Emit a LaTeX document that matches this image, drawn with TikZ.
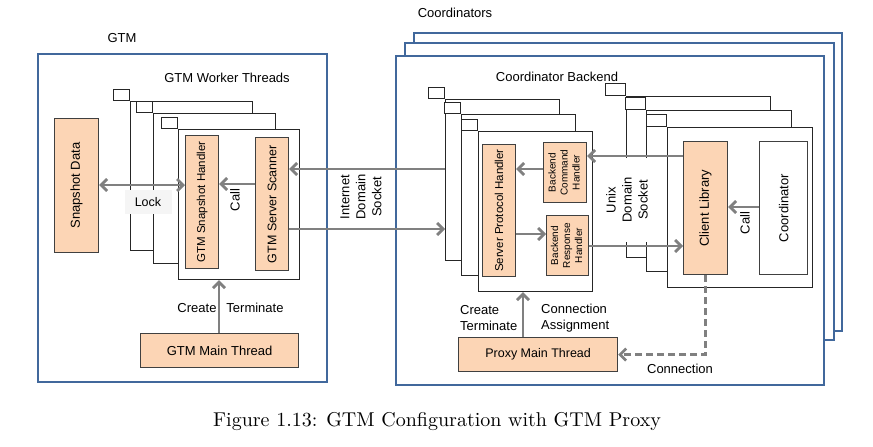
\documentclass[tikz,border=0pt]{standalone}
\usepackage{graphicx}
\usepackage{fontspec}
\setsansfont{Liberation Sans}
\usetikzlibrary{arrows.meta}
\definecolor{bluebox}{HTML}{41689C}
\definecolor{peach}{HTML}{FCD5B5}
\definecolor{arrgray}{HTML}{808080}
\newcommand\bx[6]{\node[#1, minimum width={#5-#3}, minimum height={#6-#4}] (#2) at (#3,#4)}
\begin{document}
\begin{tikzpicture}[x=1pt,y=-1pt,
 every node/.style={font=\sffamily\fontsize{13}{16}\selectfont, text=black, inner sep=0pt},
 grp/.style={draw=bluebox, line width=2.3pt, fill=white, anchor=north west},
 win/.style={draw=black!85, line width=1.2pt, fill=white, anchor=north west},
 wtab/.style={draw=black!85, line width=1.2pt, fill=white, anchor=south east, minimum width=16pt, minimum height=11pt},
 ctab/.style={wtab, minimum width=20pt, minimum height=12pt},
 obox/.style={draw=black!75, line width=1.2pt, fill=peach, anchor=north west},
 wbox/.style={draw=black!75, line width=1.2pt, fill=white, anchor=north west},
 arr/.style={draw=arrgray, line width=2.7pt, -{Straight Barb[length=6pt,width=12pt]}},
 darr/.style={draw=arrgray, line width=2.7pt, {Straight Barb[length=6pt,width=12pt]}-{Straight Barb[length=6pt,width=12pt]}},
]
\useasboundingbox (0,0) rectangle (873,447);

% ---------- GTM ----------
\bx{grp}{gtm}{37}{53}{326}{381}{};
\node (gtmlbl) at (122,38) {GTM};
\node (gwt) at (227,78) {GTM Worker Threads};

\bx{win}{gw1}{130}{101}{252}{250}{}; \node[wtab] (gt1) at (gw1.north west) {};
\bx{win}{gw2}{153}{113}{275}{263}{}; \node[wtab] (gt2) at (gw2.north west) {};
\bx{win}{gw3}{178}{129}{299}{279}{}; \node[wtab] (gt3) at (gw3.north west) {};

\bx{obox}{snap}{54}{118}{98}{252}{\rotatebox{90}{Snapshot Data}};
\bx{obox}{gsh}{185}{135}{218}{268}{\rotatebox{90}{\fontsize{11.5}{14}\selectfont GTM Snapshot Handler}};
\bx{obox}{gss}{255}{137}{288}{270}{\rotatebox{90}{\fontsize{12.5}{15}\selectfont GTM Server Scanner}};
\bx{obox}{gmt}{140}{333}{298}{367}{GTM Main Thread};

\node[fill=black!4, minimum width=47pt, minimum height=24pt] (lock) at (148,202) {\fontsize{12.5}{15}\selectfont Lock};
\node[rotate=90] (gcall) at (235,200) {Call};
\node (gcreate) at (197,308) {Create};
\node (gterm) at (255,308) {Terminate};

% ---------- Coordinators ----------
\node (coords) at (455,13) {Coordinators};
\bx{grp}{c3}{413}{32}{841}{330}{};
\bx{grp}{c2}{404}{42}{833}{339}{};
\bx{grp}{c1}{395}{55}{823}{384}{};
\node (cback) at (557,77) {Coordinator Backend};

\bx{win}{bw1}{445}{99}{559}{260}{}; \node[wtab] (bt1) at (bw1.north west) {};
\bx{win}{bw2}{461}{114}{575}{275}{}; \node[wtab] (bt2) at (bw2.north west) {};
\bx{win}{bw3}{478}{131}{592}{291}{}; \node[wtab] (bt3) at (bw3.north west) {};

\bx{obox}{sph}{482}{144}{515}{276}{\rotatebox{90}{\fontsize{11.5}{14}\selectfont Server Protocol Handler}};
\bx{obox}{bch}{543}{142}{586}{202}{\rotatebox{90}{\fontsize{10}{12}\selectfont\begin{tabular}{@{}c@{}}Backend\\Command\\Handler\end{tabular}}};
\bx{obox}{brh}{546}{215}{588}{275}{\rotatebox{90}{\fontsize{10}{12}\selectfont\begin{tabular}{@{}c@{}}Backend\\Response\\Handler\end{tabular}}};
\bx{obox}{pmt}{458}{337}{617}{371}{\fontsize{12.5}{15}\selectfont Proxy Main Thread};

\bx{win}{cw1}{626}{96}{770}{257}{}; \node[ctab] (ct1) at (cw1.north west) {};
\bx{win}{cw2}{646}{110}{791}{271}{}; \node[ctab] (ct2) at (cw2.north west) {};
\bx{win}{cw3}{667}{127}{812}{287}{}; \node[ctab] (ct3) at (cw3.north west) {};

\bx{obox}{cl}{683}{141}{727}{274}{\rotatebox{90}{Client Library}};
\bx{wbox}{coord}{759}{141}{807}{274}{\rotatebox{90}{Coordinator}};

\node[rotate=90, align=center] (ids) at (361,197) {Internet\\Domain\\Socket};
\node[rotate=90, align=center, fill=white, minimum width=84pt] (uds) at (627,200) {Unix\\Domain\\Socket};
\node[rotate=90] (ccall) at (745,223) {Call};
\node[align=left, anchor=west] (pcreate) at (460,318) {Create\\Terminate};
\node[align=left, anchor=west] (pconn) at (541,318) {Connection\\Assignment};
\node (connlbl) at (680,369) {Connection};

% ---------- arrows ----------
\draw[darr] (snap.east |- 0,185) -- (gsh.west |- 0,185);
\draw[arr] (gss.west |- 0,184) -- (gsh.east |- 0,184);
\draw[arr] (gmt.north -| 219,0) -- (gw3.south -| 219,0);
\draw[arr] (bw1.west |- 0,169) -- (gss.east |- 0,169);
\draw[arr] (gss.east |- 0,229) -- (bw1.west |- 0,229);
\draw[arr] (bch.west |- 0,169) -- (sph.east |- 0,169);
\draw[arr] (sph.east |- 0,234) -- (brh.west |- 0,234);
\draw[arr] (cl.west |- 0,156) -- (bch.east |- 0,156);
\draw[arr] (brh.east |- 0,246) -- (cl.west |- 0,246);
\draw[arr] (coord.west |- 0,207) -- (cl.east |- 0,207);
\draw[arr] (pmt.north -| 523,0) -- (bw3.south -| 523,0);
\draw[arr, dash pattern=on 7pt off 4pt] (cl.south) |- (pmt.east);

% ---------- caption ----------
\node[font=\rmfamily] (cap) at (437,422) {\scalebox{2}{\fontsize{10}{12}\selectfont Figure 1.13: GTM Configuration with GTM Proxy}};
\end{tikzpicture}
\end{document}
